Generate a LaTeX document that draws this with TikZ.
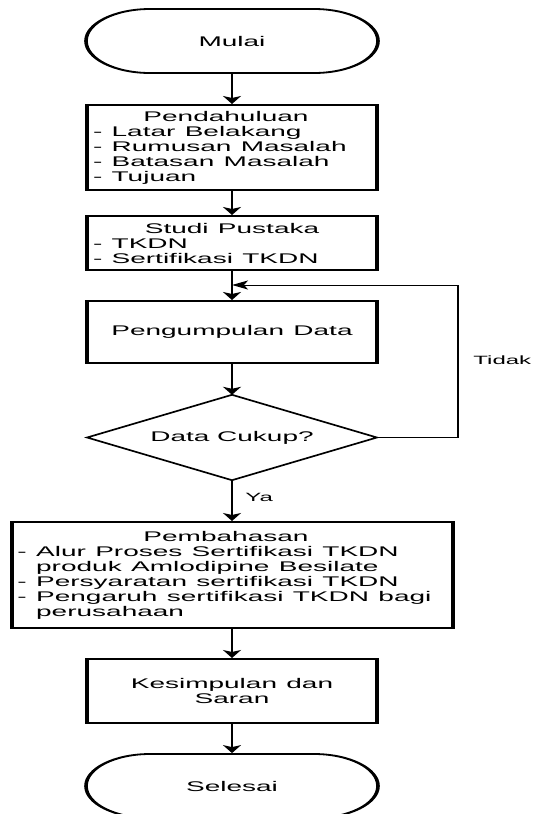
\documentclass[tikz,border=0pt]{standalone}
\usepackage{fontspec}
\setmainfont{Liberation Sans}
\usetikzlibrary{shapes.misc,arrows.meta}
\begin{document}
\begin{tikzpicture}[x=1pt,y=1pt,
  txt/.style={font=\fontsize{14}{15}\selectfont},
  box/.style={txt, draw=black, line width=2pt, rectangle, inner xsep=3pt, inner ysep=0pt,
    text width=139pt, align=left, minimum height=#1},
  term/.style={txt, draw=black, line width=1.8pt, rounded rectangle, minimum width=146pt,
    minimum height=64pt, inner sep=0pt},
  diam/.style={draw=black, line width=1.5pt, line join=miter},
  arr/.style={draw=black, line width=1pt, -{Stealth[length=8pt,width=9pt,inset=2pt]}},
  lbl/.style={font=\fontsize{12}{13}\selectfont, inner sep=0pt, anchor=west}]
\useasboundingbox (0,0) rectangle (535,-814);
\fill[white] (0,0) rectangle (535,-814);
\begin{scope}[transform canvas={xscale=2}]
\node[term] (mulai) at (116,-41) {Mulai};
\node[box=85pt] (pend) at (116,-147.5) {\makebox[133pt]{Pendahuluan}\\- Latar Belakang\\- Rumusan Masalah\\- Batasan Masalah\\- Tujuan};
\node[box=54pt] (studi) at (116,-243) {\makebox[139pt]{Studi Pustaka}\\- TKDN\\- Sertifikasi TKDN};
\node[box=62pt, align=center] (kumpul) at (116,-332) {Pengumpulan Data};
\node[txt, rectangle, minimum width=144.5pt, minimum height=85pt, inner sep=0pt] (cukup) at (116,-437.5) {Data Cukup?};
\draw[diam] (cukup.north) -- (cukup.east) -- (cukup.south) -- (cukup.west) -- cycle;
\node[box=106pt, text width=214.5pt] (bahas) at (116,-575) {\makebox[208.5pt]{Pembahasan}\\- Alur Proses Sertifikasi TKDN\\\hphantom{-\ }produk Amlodipine Besilate\\- Persyaratan sertifikasi TKDN\\- Pengaruh sertifikasi TKDN bagi\\\hphantom{-\ }perusahaan};
\node[box=64pt, align=center] (simpul) at (116,-691) {Kesimpulan dan\\Saran};
\node[term] (selesai) at (116,-786) {Selesai};
\coordinate (join) at (116,-285);
\coordinate (lp) at (229,-285);
\draw[arr] (mulai) -- (pend);
\draw[arr] (pend) -- (studi);
\draw[arr] (studi) -- (kumpul);
\draw[arr] (kumpul) -- (cukup.north);
\draw[arr] (cukup.south) -- (bahas);
\draw[arr] (bahas) -- (simpul);
\draw[arr] (simpul) -- (selesai);
\draw[arr] (cukup.east) -| (lp) -- (join);
\node[lbl] (tidak) at (236.5,-360) {Tidak};
\node[lbl] (ya) at (122.5,-497) {Ya};
\end{scope}
\end{tikzpicture}
\end{document}
